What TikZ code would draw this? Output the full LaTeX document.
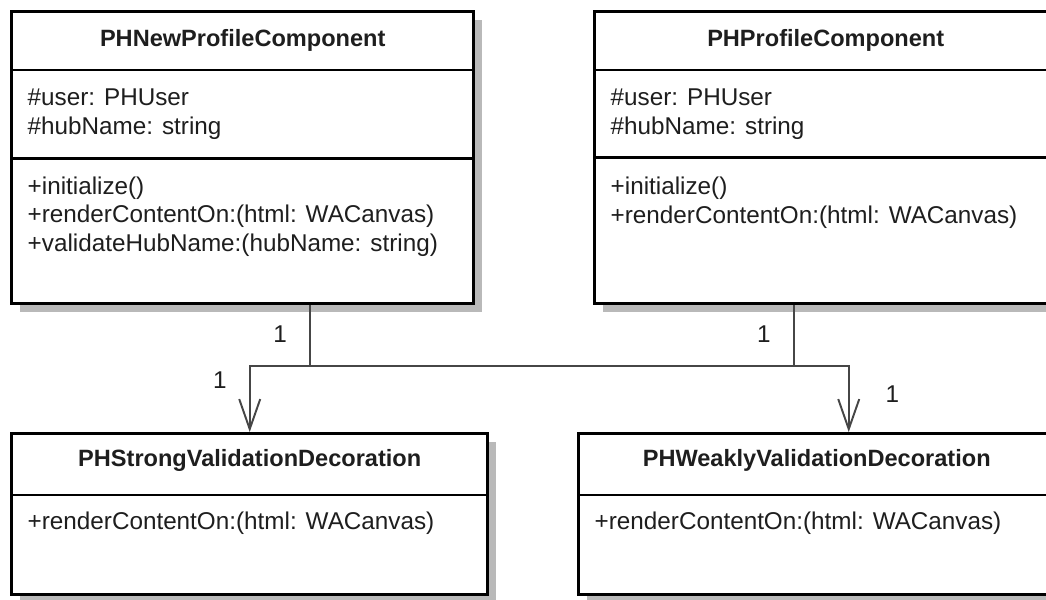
\documentclass[tikz,border=0pt]{standalone}
\usepackage{fontspec}
\setmainfont{Liberation Sans}
\usetikzlibrary{arrows.meta,shadows,positioning}

\definecolor{shadowgray}{RGB}{185,185,185}
\definecolor{textgray}{RGB}{30,30,30}
\definecolor{linegray}{RGB}{70,70,70}

\tikzset{
  classbox/.style={draw=black, line width=0.9pt, fill=white, inner sep=0pt, anchor=north west,
    general shadow={fill=shadowgray, shadow xshift=0.08cm, shadow yshift=-0.08cm}},
  classname/.style={font=\fontsize{6.7}{8}\selectfont\bfseries, text=textgray, inner sep=0pt},
  members/.style={font=\fontsize{6.9}{8.1}\selectfont, text=textgray, align=left, anchor=west, inner sep=0pt},
  sepline/.style={line width=0.8pt},
  assoc/.style={draw=linegray, line width=0.55pt, -{Straight Barb[length=0.3cm,width=0.21cm]}},
  mult/.style={font=\fontsize{6.9}{8}\selectfont, text=textgray, inner sep=0pt},
}

\begin{document}
\begin{tikzpicture}[x=0.01cm, y=-0.01cm]
\useasboundingbox (0,0) rectangle (1046,599);
\fill[white] (0,0) rectangle (1046,599);

% classes
\node[classbox, minimum width=4.62cm, minimum height=2.92cm] (newprof) at (10,10) {};
\node[classbox, minimum width=4.62cm, minimum height=2.92cm] (prof) at (593,10) {};
\node[classbox, minimum width=4.76cm, minimum height=1.61cm] (strongdec) at (10,432) {};
\node[classbox, minimum width=4.76cm, minimum height=1.61cm] (weakdec) at (577,432) {};

% compartments
\draw[sepline] ([yshift=-0.6cm]newprof.north west) -- ([yshift=-0.6cm]newprof.north east);
\draw[sepline] ([yshift=-1.48cm]newprof.north west) -- ([yshift=-1.48cm]newprof.north east);
\draw[sepline] ([yshift=-0.6cm]prof.north west) -- ([yshift=-0.6cm]prof.north east);
\draw[sepline] ([yshift=-1.47cm]prof.north west) -- ([yshift=-1.47cm]prof.north east);
\draw[sepline] ([yshift=-0.63cm]strongdec.north west) -- ([yshift=-0.63cm]strongdec.north east);
\draw[sepline] ([yshift=-0.63cm]weakdec.north west) -- ([yshift=-0.63cm]weakdec.north east);

% texts
\node[classname] at ([yshift=-0.3cm]newprof.north) {PHNewProfileComponent};
\node[members] at ([xshift=0.17cm,yshift=-1.04cm]newprof.north west) {\#user: PHUser\\\#hubName: string};
\node[members] at ([xshift=0.17cm,yshift=-2.065cm]newprof.north west) {+initialize()\\+renderContentOn:(html: WACanvas)\\+validateHubName:(hubName: string)};

\node[classname] at ([yshift=-0.3cm]prof.north) {PHProfileComponent};
\node[members] at ([xshift=0.17cm,yshift=-1.04cm]prof.north west) {\#user: PHUser\\\#hubName: string};
\node[members] at ([xshift=0.17cm,yshift=-1.925cm]prof.north west) {+initialize()\\+renderContentOn:(html: WACanvas)};

\node[classname] at ([yshift=-0.28cm]strongdec.north) {PHStrongValidationDecoration};
\node[members] at ([xshift=0.17cm,yshift=-0.91cm]strongdec.north west) {+renderContentOn:(html: WACanvas)};

\node[classname] at ([yshift=-0.28cm]weakdec.north) {PHWeaklyValidationDecoration};
\node[members] at ([xshift=0.17cm,yshift=-0.91cm]weakdec.north west) {+renderContentOn:(html: WACanvas)};

% associations
\coordinate (bus) at (0,366);
\coordinate (newprofout) at ([xshift=0.67cm]newprof.south);
\coordinate (profout) at ([xshift=-0.32cm]prof.south);
\coordinate (strongin) at (strongdec.north);
\coordinate (weakin) at ([xshift=0.32cm]weakdec.north);

\draw[assoc] (newprofout) -- node[mult, left=0.22cm, pos=0.47] {1} (newprofout |- bus)
  -| node[mult, right=0.36cm, pos=0.71] {1} (weakin);
\draw[assoc] (profout) -- node[mult, left=0.22cm, pos=0.47] {1} (profout |- bus)
  -| node[mult, left=0.22cm, pos=0.61] {1} (strongin);
\end{tikzpicture}
\end{document}
